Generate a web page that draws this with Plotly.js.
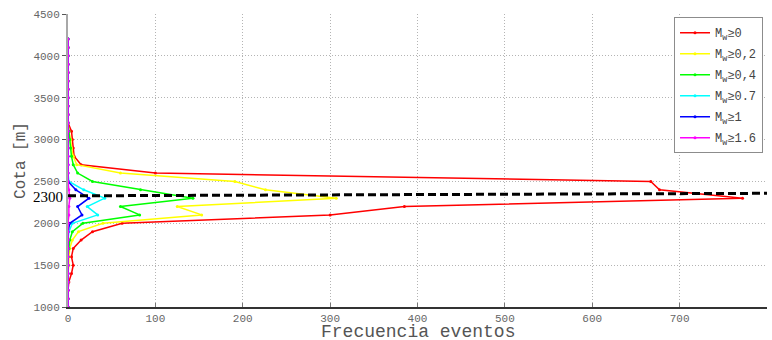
<!DOCTYPE html>
<html>
<head>
<meta charset="utf-8">
<script src="https://cdn.plot.ly/plotly-3.0.1.min.js"></script>
<style>
html,body{margin:0;padding:0;background:#fff;}
#chart{width:772px;height:340px;}
</style>
</head>
<body>
<div id="chart"></div>
<script>
// Elevation bins (m)
const cota = [1000,1100,1200,1300,1400,1500,1600,1700,1800,1900,2000,2100,2200,2300,2400,2500,2600,2700,2800,2900,3000,3100,3200,3300,3400,3500,3600,3700,3800,3900,4000,4100,4200];

// Event counts per series
const mw0   = [0,0,0,1,4,6,4,6,15,28,62,300,385,772,677,667,100,15,7,6,5,4,0,0,0,0,0,0,0,0,0,0,0];
const mw02  = [0,0,0,0,0,1,1,2,5,12,40,153,125,307,226,191,60,10,6,4,3,1,0,0,0,0,0,0,0,0,0,0,0];
const mw04  = [0,0,0,0,0,0,0,1,2,5,17,82,60,143,83,28,11,6,4,3,2,1,0,0,0,0,0,0,0,0,0,0,0];
const mw07  = [0,0,0,0,0,0,0,0,0,1,5,34,22,42,18,1,0,0,0,0,0,0,0,0,0,0,0,0,0,0,0,0,0];
const mw1   = [0,0,0,0,0,0,0,0,0,0,2,16,11,24,9,0,0,0,0,0,0,0,0,0,0,0,0,0,0,0,0,0,0];
const mw16  = [0,0,0,0,0,0,0,0,0,0,0,1,1,2,1,0,0,0,0,0,0,0,0,0,0,0,0,0,0,0,0,0,0];

const seriesNames = ['M<sub>w</sub>≥0','M<sub>w</sub>≥0,2','M<sub>w</sub>≥0,4','M<sub>w</sub>≥0.7','M<sub>w</sub>≥1','M<sub>w</sub>≥1.6'];
const seriesData = [mw0, mw02, mw04, mw07, mw1, mw16];
const seriesColors = ['#ff0000','#ffff00','#00ff00','#00ffff','#0000ff','#ff00ff'];

// Reference line (Cota 2300)
const refLineX = [0, 800];
const refLineY = [2328, 2358];
const refLabel = '2300';
const xTitle = 'Frecuencia eventos';
const yTitle = 'Cota [m]';

const monoFont = 'Liberation Mono, Courier New, monospace';

const traces = seriesData.map((d, i) => ({
  type: 'scatter',
  mode: 'lines+markers',
  x: d,
  y: cota,
  name: seriesNames[i],
  line: {color: seriesColors[i], width: 1.5},
  marker: {color: seriesColors[i], size: 3},
  legendgroup: 'g' + i
}));

const layout = {
  width: 772, height: 340,
  margin: {l: 68, r: 5, t: 14, b: 33, pad: 0},
  paper_bgcolor: '#ffffff',
  plot_bgcolor: '#ffffff',
  showlegend: true,
  legend: {
    x: 0.9943, xanchor: 'right', y: 0.989, yanchor: 'top',
    bgcolor: '#ffffff', bordercolor: '#8c8c8c', borderwidth: 1,
    font: {family: monoFont, size: 12, color: '#444'},
    tracegroupgap: 2
  },
  xaxis: {
    range: [0, 800], dtick: 100, tick0: 0,
    showgrid: true, gridcolor: '#b4b4b4', griddash: '1px,2px', gridwidth: 1,
    zeroline: false,
    showline: true, linecolor: '#333', linewidth: 1.5,
    ticks: 'inside', ticklen: 4, tickcolor: '#777',
    tickfont: {family: monoFont, size: 11, color: '#666'}
  },
  yaxis: {
    range: [1000, 4500], dtick: 500, tick0: 1000,
    showgrid: true, gridcolor: '#b4b4b4', griddash: '1px,2px', gridwidth: 1,
    zeroline: false,
    showline: true, linecolor: '#a8a8a8', linewidth: 2,
    ticks: 'outside', ticklen: 4, tickcolor: '#555',
    tickfont: {family: monoFont, size: 11, color: '#666'},
    title: {text: yTitle, font: {family: monoFont, size: 16, color: '#555'}, standoff: 4}
  },
  shapes: [{
    type: 'line', xref: 'x', yref: 'y',
    x0: refLineX[0], x1: refLineX[1], y0: refLineY[0], y1: refLineY[1],
    line: {color: '#000', width: 3, dash: '8px,4px'},
    layer: 'above'
  }],
  annotations: [{
    xref: 'paper', yref: 'y', x: 0, y: 2300,
    xanchor: 'right', yanchor: 'middle', xshift: -3, yshift: 1,
    text: refLabel, showarrow: false,
    font: {family: 'Liberation Serif, Times New Roman, serif', size: 15, color: '#000'}
  }, {
    xref: 'paper', yref: 'paper', x: 0.5, y: 0,
    xanchor: 'center', yanchor: 'middle', yshift: -24.5, borderpad: 0,
    text: xTitle, showarrow: false,
    font: {family: monoFont, size: 18, color: '#555'}
  }]
};

Plotly.newPlot('chart', traces, layout, {displayModeBar: false, staticPlot: true});
</script>
</body>
</html>
